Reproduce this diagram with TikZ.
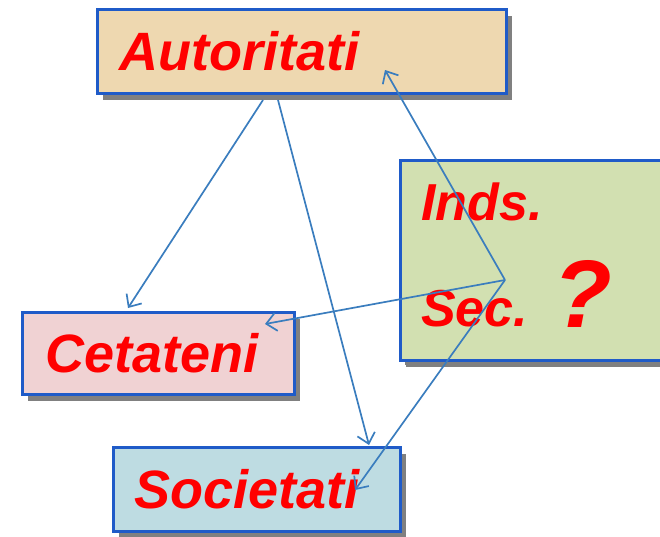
\documentclass[tikz,border=0pt]{standalone}
\usepackage{fontspec}
\setmainfont{Liberation Sans}
\usetikzlibrary{shadows,arrows.meta}
\definecolor{bordc}{HTML}{1F5BC8}
\definecolor{linec}{HTML}{3A7DBE}
\definecolor{txtc}{HTML}{FF0000}
\definecolor{autf}{HTML}{EED8B0}
\definecolor{cetf}{HTML}{F0D2D3}
\definecolor{socf}{HTML}{BEDCE2}
\definecolor{indf}{HTML}{D2E0B1}
\definecolor{shc}{HTML}{808080}
\tikzset{
  box/.style={draw=bordc, line width=2.8pt, anchor=north west, inner sep=0pt,
    drop shadow={shadow xshift=6pt, shadow yshift=-7pt, fill=shc, opacity=1}},
  lbl/.style={anchor=base west, inner sep=0pt, text=txtc, font=\fontsize{54}{60}\selectfont\bfseries\itshape},
  conn/.style={draw=linec, line width=1.7pt, -{Straight Barb[length=10pt,width=18pt,line width=1.7pt]}}
}
\begin{document}
\begin{tikzpicture}[x=1pt,y=-1pt]
\useasboundingbox (0,0) rectangle (660,536);
\begin{scope}
\clip (0,0) rectangle (660,536);
\node[box, fill=autf, minimum width=409pt, minimum height=84pt] (aut) at (96,8) {};
\node[box, fill=indf, minimum width=280pt, minimum height=200pt, drop shadow={shadow xshift=5pt, shadow yshift=-5pt, fill=shc, opacity=1}] (ind) at (399,159) {};
\node[box, fill=cetf, minimum width=272pt, minimum height=82pt] (cet) at (21,311) {};
\node[box, fill=socf, minimum width=287pt, minimum height=84pt] (soc) at (112,446) {};
\end{scope}
\node[lbl] (tAut) at (119,70) {Autoritati};
\node[lbl] (tCet) at (45,372) {Cetateni};
\node[lbl] (tSoc) at (134,508) {Societati};
\node[lbl, font=\fontsize{52}{60}\selectfont\bfseries\itshape] (tInd) at (421,220) {Inds.};
\node[lbl, font=\fontsize{52}{60}\selectfont\bfseries\itshape] (tSec) at (421,326) {Sec.};
\node[lbl, font=\fontsize{96}{100}\selectfont\bfseries\itshape] (tQ) at (553,327) {?};
\coordinate (a1) at (263,100);
\coordinate (a2) at (278,100);
\coordinate (hub) at (505,280);
\coordinate (eAut) at (385,70);
\coordinate (eCet1) at (128,308);
\coordinate (eCet2) at (265,324);
\coordinate (eSoc1) at (369,445);
\coordinate (eSoc2) at (355,490);
\draw[conn] (a1) -- (eCet1);
\draw[conn] (a2) -- (eSoc1);
\draw[conn] (hub) -- (eAut);
\draw[conn] (hub) -- (eCet2);
\draw[conn] (hub) -- (eSoc2);
\end{tikzpicture}
\end{document}
